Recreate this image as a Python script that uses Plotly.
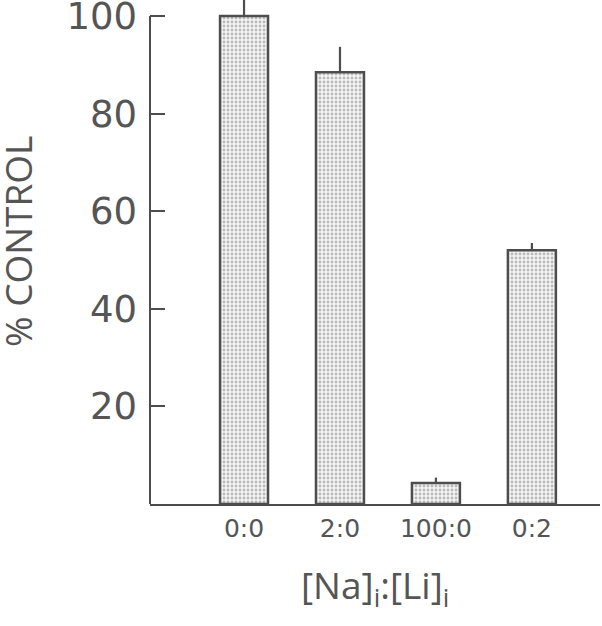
import plotly.graph_objects as go

categories = ["0:0", "2:0", "100:0", "0:2"]
percent_control = [100, 88.5, 4.3, 52]
error_plus = [4.0, 5.2, 1.1, 1.5]
y_ticks = [20, 40, 60, 80, 100]

line_col = "#4d4d4d"
text_col = "#555555"
title_font = "Open Sans, DejaVu Sans, sans-serif"
tick_font = "DejaVu Sans, sans-serif"

fig = go.Figure()
fig.add_trace(go.Bar(
    x=categories,
    y=percent_control,
    width=0.5,
    marker=dict(
        color="#f0f0f0",
        line=dict(color=line_col, width=2.5),
        pattern=dict(shape=".", size=4, solidity=0.4, fgcolor="#7d7d7d", bgcolor="#f4f4f4"),
    ),
    error_y=dict(type="data", symmetric=False, array=error_plus,
                 arrayminus=[0] * len(error_plus), width=0, thickness=2.2, color=line_col),
))

fig.update_layout(
    width=602, height=626,
    margin=dict(l=150, r=2, t=0, b=122),
    plot_bgcolor="white", paper_bgcolor="white",
    showlegend=False,
    font=dict(family=title_font, color=text_col),
)
fig.update_xaxes(
    range=[-0.98, 3.71],
    showline=True, linecolor=line_col, linewidth=2,
    ticks="", showgrid=False, zeroline=False,
    tickfont=dict(size=25, color=text_col, family=tick_font),
    ticklabelstandoff=1,
    automargin=False,
)
fig.update_yaxes(
    range=[0, 103.3],
    tickvals=y_ticks, ticktext=[str(v) for v in y_ticks],
    showline=False,
    ticks="inside", ticklen=15, tickwidth=2, tickcolor=line_col,
    showgrid=False, zeroline=False,
    tickfont=dict(size=37, color=text_col, family=tick_font),
    ticklabelstandoff=12,
    ticklabeloverflow="allow",
    automargin=False,
)
# y-axis spine runs from 0 up to the top tick (100)
fig.add_shape(type="line", xref="paper", yref="y", x0=0, x1=0, y0=0, y1=y_ticks[-1],
              line=dict(color=line_col, width=2))
fig.add_annotation(text="% CONTROL", xref="paper", yref="paper", x=-0.293, y=0.52,
                   xanchor="center", yanchor="middle", textangle=-90, showarrow=False,
                   font=dict(size=37, color=text_col, family=title_font))
fig.add_annotation(text="[Na]<sub>i</sub>:[Li]<sub>i</sub>", xref="paper", yref="paper",
                   x=0.5, y=-0.165, xanchor="center", yanchor="middle", showarrow=False,
                   font=dict(size=37, color=text_col, family=title_font))

fig.write_html("out.html", config={"displayModeBar": False},
               post_script="document.body.style.margin='0';document.body.style.overflow='hidden';")
